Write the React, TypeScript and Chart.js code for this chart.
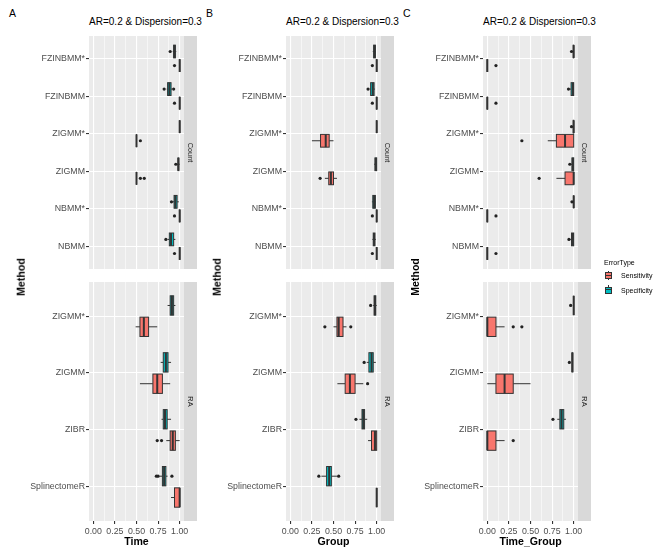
import React, { useEffect, useRef } from 'react';
import { Chart, registerables } from 'chart.js';

Chart.register(...registerables);

type Stat = number[] | null; // [lowerWhisker, q1, median, q3, upperWhisker]

// ---------- categories / labels ----------
const countMethods = ['FZINBMM*', 'FZINBMM', 'ZIGMM*', 'ZIGMM', 'NBMM*', 'NBMM'];
const raMethods = ['ZIGMM*', 'ZIGMM', 'ZIBR', 'SplinectomeR'];
const majorTicks = [0, 0.25, 0.5, 0.75, 1];
const minorTicks = [0.125, 0.375, 0.625, 0.875];
const errorTypes = ['Sensitivity', 'Specificity'];
const errorColors = ['#F8766D', '#00BFC4'];
const panelLetters = ['A', 'B', 'C'];
const xTitles = ['Time', 'Group', 'Time_Group'];
const panelTitle = 'AR=0.2 & Dispersion=0.3';
const stripLabels = ['Count', 'RA'];
const yTitle = 'Method';
const legendTitle = 'ErrorType';

// ---------- Panel A : Time ----------
const timeCountSpec: Stat[] = [
  [0.92, 0.93, 0.94, 0.95, 0.96],
  [0.85, 0.86, 0.88, 0.9, 0.91],
  [1, 1, 1, 1, 1],
  [0.97, 0.98, 0.985, 0.99, 1],
  [0.92, 0.935, 0.95, 0.97, 0.99],
  [0.86, 0.88, 0.9, 0.93, 0.95],
];
const timeCountSpecOut = [[0.89], [0.82, 0.93], [], [0.955], [0.905], [0.84]];
const timeCountSens: Stat[] = [
  [1, 1, 1, 1, 1],
  [1, 1, 1, 1, 1],
  [0.5, 0.5, 0.5, 0.5, 0.5],
  [0.5, 0.5, 0.5, 0.5, 0.5],
  [1, 1, 1, 1, 1],
  [1, 1, 1, 1, 1],
];
const timeCountSensOut = [[0.94], [0.94], [0.545], [0.545, 0.59], [0.94], [0.94]];
const timeRASpec: Stat[] = [
  [0.86, 0.89, 0.91, 0.93, 0.95],
  [0.78, 0.81, 0.84, 0.865, 0.9],
  [0.79, 0.81, 0.83, 0.855, 0.9],
  [0.77, 0.8, 0.82, 0.84, 0.86],
];
const timeRASpecOut = [[], [], [], [0.73, 0.75, 0.91]];
const timeRASens: Stat[] = [
  [0.49, 0.54, 0.585, 0.64, 0.74],
  [0.54, 0.69, 0.74, 0.8, 0.89],
  [0.845, 0.89, 0.92, 0.95, 1],
  [0.9, 0.94, 1, 1, 1],
];
const timeRASensOut = [[], [], [0.74, 0.79], []];

// ---------- Panel B : Group ----------
const groupCountSpec: Stat[] = [
  [0.955, 0.965, 0.975, 0.985, 0.99],
  [0.92, 0.93, 0.955, 0.97, 0.98],
  [1, 1, 1, 1, 1],
  [0.97, 0.98, 0.99, 1, 1],
  [0.945, 0.955, 0.97, 0.985, 0.99],
  [0.95, 0.96, 0.97, 0.98, 0.99],
];
const groupCountSpecOut = [[], [0.9], [], [], [], []];
const groupCountSens: Stat[] = [
  [1, 1, 1, 1, 1],
  [1, 1, 1, 1, 1],
  [0.25, 0.35, 0.41, 0.45, 0.5],
  [0.4, 0.445, 0.47, 0.5, 0.54],
  [1, 1, 1, 1, 1],
  [1, 1, 1, 1, 1],
];
const groupCountSensOut = [[0.95], [0.95], [], [0.345], [0.95], [0.95]];
const groupRASpec: Stat[] = [
  [0.96, 0.97, 0.98, 0.99, 1],
  [0.885, 0.91, 0.94, 0.96, 0.99],
  [0.8, 0.83, 0.845, 0.86, 0.89],
  [0.36, 0.42, 0.45, 0.475, 0.54],
];
const groupRASpecOut = [[0.93], [0.855], [0.76], [0.33, 0.56]];
const groupRASens: Stat[] = [
  [0.5, 0.54, 0.56, 0.61, 0.65],
  [0.545, 0.635, 0.69, 0.75, 0.845],
  [0.9, 0.94, 0.98, 1, 1],
  [1, 1, 1, 1, 1],
];
const groupRASensOut = [[0.4, 0.7], [0.895], [], []];

// ---------- Panel C : Time_Group ----------
const tgCountSpec: Stat[] = [
  [0.99, 0.995, 1, 1, 1],
  [0.955, 0.97, 0.99, 1, 1],
  [0.99, 0.995, 1, 1, 1],
  [0.97, 0.98, 0.99, 1, 1],
  [0.99, 1, 1, 1, 1],
  [0.96, 0.975, 0.99, 1, 1],
];
const tgCountSpecOut = [[0.975], [0.94], [0.975], [0.955], [0.98], [0.945]];
const tgCountSens: Stat[] = [
  [0, 0, 0, 0, 0],
  [0, 0, 0, 0, 0],
  [0.7, 0.8, 0.9, 1, 1],
  [0.8, 0.9, 1, 1, 1],
  [0, 0, 0, 0, 0],
  [0, 0, 0, 0, 0],
];
const tgCountSensOut = [[0.1], [0.1], [0.4], [0.6], [0.1], [0.1]];
const tgRASpec: Stat[] = [
  [1, 1, 1, 1, 1],
  [0.98, 0.98, 0.985, 0.99, 0.99],
  [0.81, 0.84, 0.86, 0.885, 0.91],
  null,
];
const tgRASpecOut = [[0.965], [0.95], [0.76], []];
const tgRASens: Stat[] = [
  [0, 0, 0, 0.1, 0.2],
  [0, 0.1, 0.2, 0.3, 0.5],
  [0, 0, 0, 0.1, 0.2],
  null,
];
const tgRASensOut = [[0.3, 0.4], [], [0.3], []];

// ---------- layout ----------
const FONT = '"Liberation Sans", Arial, Helvetica, sans-serif';
const PANEL_LEFTS = [89, 286, 483];
const PANEL_W = 95;
const STRIP_W = 13;
const LABEL_W = 80;
const COUNT_TOP = 32;
const COUNT_H = 241;
const RA_TOP = 278;
const RA_H = 243;
const XAXIS_H = 16;
const DODGE = 0.1875;
const HALF_BOX = 0.17;

interface FacetProps {
  left: number;
  top: number;
  plotH: number;
  methods: string[];
  spec: Stat[];
  specOut: number[][];
  sens: Stat[];
  sensOut: number[][];
  strip: string;
  showX: boolean;
}

const isMajor = (v: number) => Math.abs(v * 4 - Math.round(v * 4)) < 1e-6;

function Facet(p: FacetProps) {
  const ref = useRef<HTMLCanvasElement>(null);
  const w = LABEL_W + PANEL_W + STRIP_W;
  const h = p.plotH + (p.showX ? XAXIS_H : 0);

  useEffect(() => {
    const groups = [
      { stats: p.spec, offset: -DODGE, color: errorColors[1] },
      { stats: p.sens, offset: DODGE, color: errorColors[0] },
    ];
    const boxPlugin = {
      id: 'ggBox',
      beforeDraw(chart: any) {
        const a = chart.chartArea;
        const ctx = chart.ctx as CanvasRenderingContext2D;
        ctx.save();
        ctx.fillStyle = '#EBEBEB';
        ctx.fillRect(a.left, a.top, a.right - a.left, a.bottom - a.top);
        ctx.fillStyle = '#D9D9D9';
        ctx.fillRect(a.right, a.top, STRIP_W, a.bottom - a.top);
        ctx.translate(a.right + STRIP_W / 2, (a.top + a.bottom) / 2);
        ctx.rotate(Math.PI / 2);
        ctx.fillStyle = '#1A1A1A';
        ctx.font = `7.4px ${FONT}`;
        ctx.textAlign = 'center';
        ctx.textBaseline = 'middle';
        ctx.fillText(p.strip, 0, 0);
        ctx.restore();
      },
      beforeDatasetsDraw(chart: any) {
        const x = chart.scales.x;
        const y = chart.scales.y;
        const ctx = chart.ctx as CanvasRenderingContext2D;
        ctx.save();
        groups.forEach((g) => {
          g.stats.forEach((s, i) => {
            if (!s) return;
            const [lo, q1, md, q3, hi] = s;
            const c = i + 1 + g.offset;
            const yc = y.getPixelForValue(c);
            const yt = y.getPixelForValue(c - HALF_BOX);
            const yb = y.getPixelForValue(c + HALF_BOX);
            const xlo = x.getPixelForValue(lo);
            const x1 = x.getPixelForValue(q1);
            const xm = x.getPixelForValue(md);
            const x3 = x.getPixelForValue(q3);
            const xhi = x.getPixelForValue(hi);
            ctx.strokeStyle = '#333333';
            ctx.lineWidth = 1;
            ctx.beginPath();
            ctx.moveTo(xlo, yc);
            ctx.lineTo(x1, yc);
            ctx.moveTo(x3, yc);
            ctx.lineTo(xhi, yc);
            ctx.stroke();
            ctx.fillStyle = g.color;
            ctx.fillRect(x1, yt, x3 - x1, yb - yt);
            ctx.strokeRect(x1, yt, x3 - x1, yb - yt);
            ctx.lineWidth = 2;
            ctx.beginPath();
            ctx.moveTo(xm, yt);
            ctx.lineTo(xm, yb);
            ctx.stroke();
          });
        });
        ctx.restore();
      },
    };

    const outPts = (arr: number[][], off: number) =>
      arr.flatMap((vals, i) => vals.map((v) => ({ x: v, y: i + 1 + off })));

    const n = p.methods.length;
    const chart = new Chart(ref.current as HTMLCanvasElement, {
      type: 'scatter',
      data: {
        datasets: [
          {
            label: errorTypes[1],
            data: outPts(p.specOut, -DODGE),
            pointRadius: 1.6,
            pointBackgroundColor: '#222222',
            pointBorderWidth: 0,
          },
          {
            label: errorTypes[0],
            data: outPts(p.sensOut, DODGE),
            pointRadius: 1.6,
            pointBackgroundColor: '#222222',
            pointBorderWidth: 0,
          },
        ],
      },
      options: {
        animation: false,
        responsive: false,
        maintainAspectRatio: false,
        events: [],
        layout: { padding: { left: 0, right: STRIP_W, top: 0, bottom: 0 } },
        plugins: { legend: { display: false }, tooltip: { enabled: false } },
        scales: {
          x: {
            type: 'linear',
            min: -0.05,
            max: 1.05,
            afterBuildTicks: (s: any) => {
              s.ticks = [...majorTicks, ...minorTicks]
                .sort((a, b) => a - b)
                .map((v) => ({ value: v }));
            },
            afterFit: (s: any) => {
              s.height = p.showX ? XAXIS_H : 0;
              s.paddingLeft = 0;
              s.paddingRight = 0;
            },
            border: { display: false },
            grid: {
              color: '#FFFFFF',
              lineWidth: (ctx: any) => (isMajor(ctx.tick.value) ? 1.1 : 0.55),
              drawTicks: p.showX,
              tickLength: 3,
              tickColor: (ctx: any) => (isMajor(ctx.tick.value) ? '#333333' : 'rgba(0,0,0,0)'),
            },
            ticks: {
              display: p.showX,
              autoSkip: false,
              maxRotation: 0,
              padding: 2,
              color: '#4D4D4D',
              font: { family: FONT, size: 8.8 },
              callback: (v: any) => (isMajor(Number(v)) ? Number(v).toFixed(2) : ''),
            },
          },
          y: {
            type: 'linear',
            reverse: true,
            min: 0.4,
            max: n + 0.6,
            afterBuildTicks: (s: any) => {
              s.ticks = p.methods.map((_, i) => ({ value: i + 1 }));
            },
            afterFit: (s: any) => {
              s.width = LABEL_W;
              s.paddingTop = 0;
              s.paddingBottom = 0;
            },
            border: { display: false },
            grid: { color: '#FFFFFF', lineWidth: 1.1, tickLength: 3, tickColor: '#333333' },
            ticks: {
              autoSkip: false,
              padding: 1,
              color: '#4D4D4D',
              font: { family: FONT, size: 8.8 },
              callback: (v: any) => p.methods[Math.round(Number(v)) - 1],
            },
          },
        },
      } as any,
      plugins: [boxPlugin as any],
    });
    return () => chart.destroy();
  }, []);

  return (
    <canvas
      ref={ref}
      width={w}
      height={h}
      style={{ position: 'absolute', left: p.left - LABEL_W, top: p.top, width: w, height: h }}
    />
  );
}

const panelData = [
  { cs: timeCountSpec, cso: timeCountSpecOut, cn: timeCountSens, cno: timeCountSensOut, rs: timeRASpec, rso: timeRASpecOut, rn: timeRASens, rno: timeRASensOut },
  { cs: groupCountSpec, cso: groupCountSpecOut, cn: groupCountSens, cno: groupCountSensOut, rs: groupRASpec, rso: groupRASpecOut, rn: groupRASens, rno: groupRASensOut },
  { cs: tgCountSpec, cso: tgCountSpecOut, cn: tgCountSens, cno: tgCountSensOut, rs: tgRASpec, rso: tgRASpecOut, rn: tgRASens, rno: tgRASensOut },
];

const letterX = [9, 206, 403];
const methodX = [20.5, 217, 414.5];

function Txt(props: { x: number; y: number; text: string; size: number; bold?: boolean; align?: 'left' | 'center'; rotate?: boolean; color?: string }) {
  const tx = props.align === 'left' ? '0' : '-50%';
  return (
    <div
      style={{
        position: 'absolute',
        left: props.x,
        top: props.y,
        transform: `translate(${tx},-50%)${props.rotate ? ' rotate(-90deg)' : ''}`,
        transformOrigin: props.rotate ? '50% 50%' : undefined,
        fontFamily: FONT,
        fontSize: props.size,
        fontWeight: props.bold ? 'bold' : 'normal',
        lineHeight: `${props.size}px`,
        whiteSpace: 'nowrap',
        color: props.color || '#000',
      }}
    >
      {props.text}
    </div>
  );
}

export default function App() {
  return (
    <div style={{ position: 'absolute', left: 0, top: 0, width: 666, height: 555, background: '#fff', overflow: 'hidden' }}>
      {PANEL_LEFTS.map((L, k) => {
        const d = panelData[k];
        return (
          <React.Fragment key={k}>
            <Facet left={L} top={COUNT_TOP} plotH={COUNT_H} methods={countMethods} spec={d.cs} specOut={d.cso} sens={d.cn} sensOut={d.cno} strip={stripLabels[0]} showX={false} />
            <Facet left={L} top={RA_TOP} plotH={RA_H} methods={raMethods} spec={d.rs} specOut={d.rso} sens={d.rn} sensOut={d.rno} strip={stripLabels[1]} showX={true} />
            <Txt x={letterX[k]} y={13} text={panelLetters[k]} size={10.5} align="left" />
            <Txt x={L + (PANEL_W + STRIP_W) / 2 + 2.5} y={21.7} text={panelTitle} size={10} />
            <Txt x={L + PANEL_W / 2} y={540.5} text={xTitles[k]} size={10.6} bold />
            <Txt x={methodX[k]} y={276.5} text={yTitle} size={10.6} bold rotate />
          </React.Fragment>
        );
      })}
      <Txt x={604} y={262} text={legendTitle} size={7} align="left" />
      {errorTypes.map((t, i) => {
        const cy = 275 + i * 14.5;
        return (
          <React.Fragment key={t}>
            <div style={{ position: 'absolute', left: 608, top: cy - 4.5, width: 1, height: 9, background: '#333' }} />
            <div
              style={{
                position: 'absolute',
                left: 605,
                top: cy - 3,
                width: 5,
                height: 5,
                background: errorColors[i],
                border: '0.8px solid #333',
              }}
            />
            <div style={{ position: 'absolute', left: 605, top: cy - 0.5, width: 6.6, height: 1, background: '#333' }} />
            <Txt x={621} y={cy} text={t} size={7} align="left" />
          </React.Fragment>
        );
      })}
    </div>
  );
}
